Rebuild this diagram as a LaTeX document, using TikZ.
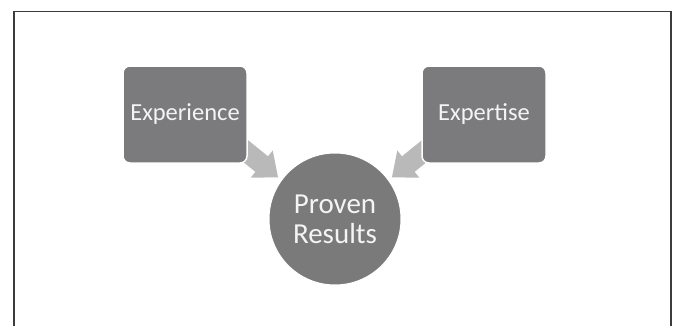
\documentclass[tikz,border=0pt]{standalone}
\usepackage{fontspec}
\setmainfont{Carlito}
\usetikzlibrary{calc}
\definecolor{boxgray}{HTML}{7B7B7E}
\definecolor{circgray}{HTML}{7A7A7A}
\definecolor{arrowgray}{HTML}{B9B9B9}
\definecolor{framegray}{HTML}{3C3C3C}
\definecolor{textwhite}{HTML}{F4F4F4}
\tikzset{
  x=1pt, y=1pt,
  sourcebox/.style={rectangle, rounded corners=7pt, fill=boxgray, draw=white,
    line width=1.5pt, minimum width=124pt, minimum height=97pt,
    text=textwhite, font=\fontsize{24.5}{26}\selectfont, inner sep=0pt},
  resultcircle/.style={circle, fill=circgray, draw=white, line width=1pt,
    minimum size=132pt, text=textwhite, align=center,
    font=\fontsize{29}{30}\selectfont, inner sep=0pt},
  blockarrow/.style={fill=arrowgray, draw=none},
  frameline/.style={draw=framegray, line cap=rect}
}
\begin{document}
\begin{tikzpicture}
\useasboundingbox (0,0) rectangle (673,325);
\fill[white] (0,0) rectangle (673,325);

% open frame: left, top and right edges
\draw[frameline, line width=2pt] (14,0) -- (14,313.5);
\draw[frameline, line width=1.2pt] (14,313.5) -- (671,313.5) -- (671,0);

% central result circle
\node[resultcircle] (res) at (335,106) {Proven\\Results};

% tips of the two converging arrows
\coordinate (tipL) at ($(res.center)+(143.8:70.6)$);
\coordinate (tipR) at ($(res.center)+(36.2:70.6)$);

% block arrows (drawn before the boxes so the boxes cover their tails)
\fill[blockarrow, shift={(tipL)}, rotate=-39]
  (0,0) -- (-21,17.5) -- (-21,10) -- (-48,10) -- (-48,-10) -- (-21,-10) -- (-21,-17.5) -- cycle;
\fill[blockarrow, shift={(tipR)}, rotate=219]
  (0,0) -- (-21,17.5) -- (-21,10) -- (-48,10) -- (-48,-10) -- (-21,-10) -- (-21,-17.5) -- cycle;

% source boxes
\node[sourcebox] (exp) at (185,210.5) {Experience};
\node[sourcebox] (ext) at (484,210.5) {Expertise};
\end{tikzpicture}
\end{document}
